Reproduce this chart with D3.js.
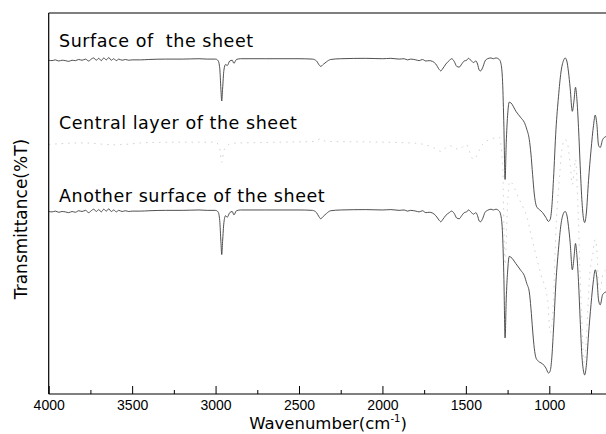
<!DOCTYPE html>
<html>
<head>
<meta charset="utf-8">
<script src="https://cdn.jsdelivr.net/npm/d3@7"></script>
<style>
  html, body { margin: 0; padding: 0; background: #fff; }
  svg text { font-family: "DejaVu Sans", sans-serif; fill: #000; }
</style>
</head>
<body>
<div id="chart"></div>
<script>
// IR spectra: [wavenumber (cm-1), transmittance (%T, arbitrary offset)]
const surfaceSpectrum = [
  [4000, 87.6], [3980, 87.5], [3960, 87.7], [3940, 87.4], [3920, 87.6], [3900, 87.5], [3880, 87.3],
  [3860, 87.6], [3840, 87.5], [3820, 87.8], [3800, 87.6], [3780, 87.9], [3760, 87.4], [3745, 87.9],
  [3730, 88.2], [3715, 87.6], [3700, 88.1], [3685, 87.5], [3670, 88.2], [3655, 87.7], [3640, 88.3],
  [3625, 87.6], [3610, 88.0], [3595, 87.5], [3580, 87.9], [3560, 87.6], [3540, 87.8], [3520, 87.6],
  [3500, 87.7], [3450, 87.7], [3400, 87.8], [3300, 87.9], [3200, 87.9], [3100, 88.0], [3050, 87.9],
  [3000, 87.9], [2985, 87.5], [2975, 85.5], [2968, 80.0], [2963, 76.9], [2958, 80.0], [2950, 85.0],
  [2940, 86.5], [2930, 86.2], [2915, 87.4], [2900, 87.6], [2890, 86.8], [2875, 87.8], [2850, 88.0],
  [2700, 88.0], [2500, 88.0], [2420, 87.9], [2395, 87.4], [2380, 86.4], [2370, 86.0], [2355, 86.5],
  [2335, 87.2], [2310, 87.8], [2250, 88.0], [2100, 88.1], [2000, 88.0], [1950, 88.1], [1900, 87.9],
  [1870, 88.0], [1850, 87.7], [1830, 87.9], [1800, 87.7], [1780, 87.5], [1760, 87.8], [1740, 87.4],
  [1720, 87.5], [1700, 87.3], [1680, 86.6], [1660, 85.2], [1650, 84.8], [1640, 85.3], [1620, 86.6],
  [1600, 87.5], [1585, 88.0], [1570, 87.3], [1555, 86.0], [1540, 85.8], [1525, 86.6], [1510, 87.4],
  [1495, 87.6], [1485, 88.1], [1470, 87.6], [1455, 87.0], [1440, 87.4], [1430, 86.6], [1420, 85.0],
  [1412, 84.8], [1400, 85.6], [1385, 87.4], [1370, 88.0], [1350, 88.2], [1335, 88.0], [1320, 88.2],
  [1300, 87.8], [1290, 86.8], [1280, 82.0], [1272, 70.0], [1265, 56.3], [1258, 66.0], [1250, 73.0],
  [1240, 76.6], [1230, 76.4], [1200, 74.2], [1170, 72.5], [1150, 71.3], [1135, 69.5], [1120, 66.8],
  [1110, 63.0], [1100, 57.6], [1090, 52.5], [1080, 49.7], [1070, 48.8], [1060, 48.4], [1040, 47.6],
  [1020, 46.3], [1005, 45.3], [995, 45.8], [985, 49.0], [975, 56.3], [960, 69.5], [945, 78.0],
  [930, 84.5], [915, 87.5], [905, 88.2], [895, 87.4], [885, 84.5], [875, 80.3], [862, 74.2],
  [852, 77.0], [843, 80.5], [835, 77.6], [825, 70.0], [815, 60.0], [805, 51.1], [795, 46.0],
  [788, 45.0], [778, 47.5], [765, 56.0], [750, 64.0], [735, 70.5], [725, 73.2], [715, 70.8],
  [705, 65.3], [695, 64.7], [680, 66.8], [660, 67.6]
];

const centralSpectrum = [
  [4000, 65.5], [3800, 65.9], [3600, 65.4], [3400, 66.0], [3200, 66.1], [3000, 66.1], [2975, 64.5],
  [2963, 60.8], [2950, 64.0], [2900, 65.8], [2600, 66.1], [2400, 66.3], [2374, 67.0], [2340, 66.3],
  [2000, 66.1], [1800, 65.8], [1700, 64.8], [1650, 63.7], [1600, 65.2], [1540, 64.2], [1500, 65.5],
  [1455, 61.6], [1400, 65.5], [1330, 67.2], [1300, 67.4], [1280, 60.0], [1265, 33.9], [1250, 50.0],
  [1238, 55.8], [1180, 51.1], [1130, 45.8], [1100, 40.0], [1050, 31.3], [1010, 24.7], [995, 16.1],
  [985, 18.0], [975, 24.7], [960, 43.2], [940, 56.3], [920, 65.5], [905, 66.8], [890, 65.5],
  [875, 60.3], [862, 55.0], [850, 58.9], [843, 61.6], [830, 51.1], [810, 24.7], [790, 8.2],
  [775, 16.8], [760, 30.0], [740, 36.6], [725, 40.5], [715, 37.9], [705, 28.7], [695, 27.4],
  [680, 31.3], [660, 32.6]
];

const anotherSpectrum = [
  [4000, 47.9], [3980, 47.8], [3960, 48.0], [3940, 47.7], [3920, 47.9], [3900, 47.8], [3880, 47.6],
  [3860, 47.9], [3840, 47.7], [3820, 48.1], [3800, 47.9], [3780, 48.2], [3760, 47.6], [3745, 48.1],
  [3730, 48.5], [3715, 47.9], [3700, 48.4], [3685, 47.8], [3670, 48.5], [3655, 48.0], [3640, 48.6],
  [3625, 47.9], [3610, 48.3], [3595, 47.8], [3580, 48.2], [3560, 47.9], [3540, 48.1], [3520, 47.9],
  [3500, 48.0], [3450, 48.0], [3400, 48.1], [3300, 48.2], [3200, 48.2], [3100, 48.3], [3050, 48.2],
  [3000, 48.2], [2985, 47.8], [2975, 45.5], [2968, 40.0], [2963, 36.6], [2958, 40.0], [2950, 45.0],
  [2940, 46.8], [2930, 46.4], [2915, 47.6], [2900, 47.9], [2890, 47.0], [2875, 48.1], [2850, 48.3],
  [2700, 48.3], [2500, 48.3], [2420, 48.2], [2395, 47.6], [2380, 46.5], [2370, 46.0], [2355, 46.6],
  [2335, 47.4], [2310, 48.1], [2250, 48.3], [2100, 48.4], [2000, 48.3], [1950, 48.4], [1900, 48.2],
  [1870, 48.3], [1850, 48.0], [1830, 48.2], [1800, 48.0], [1780, 47.8], [1760, 48.1], [1740, 47.6],
  [1720, 47.7], [1700, 47.5], [1680, 46.8], [1660, 45.6], [1650, 45.2], [1640, 45.7], [1620, 46.9],
  [1600, 47.6], [1585, 48.0], [1570, 47.4], [1555, 46.2], [1540, 46.0], [1525, 46.8], [1510, 47.6],
  [1495, 47.8], [1485, 48.3], [1470, 47.8], [1455, 47.2], [1440, 47.6], [1430, 46.8], [1420, 45.4],
  [1412, 45.2], [1400, 46.0], [1385, 47.7], [1370, 48.2], [1350, 48.5], [1335, 48.3], [1320, 48.5],
  [1300, 48.0], [1290, 46.8], [1280, 41.8], [1272, 30.0], [1265, 14.7], [1258, 25.0], [1250, 32.0],
  [1240, 36.1], [1230, 35.9], [1200, 34.2], [1170, 32.4], [1150, 31.1], [1135, 29.0], [1120, 26.8],
  [1110, 22.5], [1100, 16.8], [1090, 12.0], [1080, 9.5], [1070, 8.8], [1060, 8.4], [1040, 7.9],
  [1020, 6.8], [1005, 5.5], [995, 6.0], [985, 9.5], [975, 16.8], [960, 29.5], [945, 38.0],
  [930, 44.5], [915, 47.4], [905, 47.9], [895, 47.0], [885, 44.0], [875, 39.7], [862, 32.6],
  [852, 35.8], [843, 39.5], [835, 36.6], [825, 29.5], [815, 19.5], [805, 10.3], [795, 6.0],
  [788, 5.0], [778, 7.5], [765, 15.5], [750, 23.5], [735, 30.0], [725, 32.6], [715, 30.5],
  [705, 24.7], [695, 23.4], [680, 26.1], [660, 26.8]
];

const traceLabels = ['Surface of  the sheet', 'Central layer of the sheet', 'Another surface of the sheet'];
const majorTicks = [4000, 3500, 3000, 2500, 2000, 1500, 1000];
const minorTicks = [3750, 3250, 2750, 2250, 1750, 1250, 750];

const width = 606, height = 434;
const margin = {top: 13, left: 48.7, bottom: 40};

const svg = d3.select('#chart').append('svg')
    .attr('width', width)
    .attr('height', height);

const scaleX = d3.scaleLinear().domain([4000, 1000]).range([margin.left, 549.3]);
const scaleY = d3.scaleLinear().domain([0, 100]).range([height - margin.bottom, margin.top]);
const plotBottom = height - margin.bottom;

svg.append('clipPath').attr('id', 'plotClip')
  .append('rect')
    .attr('x', margin.left).attr('y', margin.top)
    .attr('width', width - margin.left).attr('height', plotBottom - margin.top);

const line = d3.line()
    .x((d) => scaleX(d[0]))
    .y((d) => scaleY(d[1]))
    .curve(d3.curveMonotoneX);

const plot = svg.append('g').attr('clip-path', 'url(#plotClip)');

// central layer is drawn very faint and broken up in the original scan
plot.append('path')
    .attr('d', line(centralSpectrum))
    .attr('fill', 'none')
    .attr('stroke', '#c4c4c4')
    .attr('stroke-width', 0.8)
    .attr('stroke-dasharray', '1.5,5');

[surfaceSpectrum, anotherSpectrum].forEach((s) => {
  plot.append('path')
      .attr('d', line(s))
      .attr('fill', 'none')
      .attr('stroke', '#3c3c3c')
      .attr('stroke-width', 0.9);
});

// trace labels
svg.selectAll('.lbl')
    .data(traceLabels)
    .enter().append('text')
    .attr('class', 'lbl')
    .attr('x', 59)
    .attr('y', (d, i) => [46.7, 128.5, 202][i])
    .attr('xml:space', 'preserve')
    .style('white-space', 'pre')
    .style('font-size', '17.5px')
    .style('letter-spacing', '0.55px')
    .text((d) => d);

// frame: left axis, top border, bottom axis line
svg.append('line')
    .attr('x1', margin.left).attr('x2', margin.left)
    .attr('y1', margin.top).attr('y2', plotBottom)
    .attr('stroke', '#000').attr('stroke-width', 1.2);
svg.append('line')
    .attr('x1', margin.left).attr('x2', width)
    .attr('y1', margin.top).attr('y2', margin.top)
    .attr('stroke', '#000').attr('stroke-width', 1.2);
svg.append('line')
    .attr('x1', margin.left).attr('x2', width)
    .attr('y1', plotBottom).attr('y2', plotBottom)
    .attr('stroke', '#000').attr('stroke-width', 1.2);

// x axis, ticks point inward
const xAxis = svg.append('g')
    .attr('transform', 'translate(0,' + plotBottom + ')')
    .call(d3.axisBottom(scaleX).tickValues(majorTicks).tickSize(-8).tickPadding(6).tickFormat(d3.format('d')));
xAxis.select('.domain').remove();
xAxis.selectAll('text')
    .style('font-family', '"Liberation Sans", Arial, sans-serif')
    .style('font-size', '14px');
xAxis.selectAll('line').attr('stroke', '#000');

svg.append('g')
    .attr('transform', 'translate(0,' + plotBottom + ')')
    .call(d3.axisBottom(scaleX).tickValues(minorTicks).tickSize(-4).tickFormat(''))
    .call((g) => g.select('.domain').remove())
    .selectAll('line').attr('stroke', '#000');

// axis titles
const xTitle = svg.append('text')
    .attr('x', 328)
    .attr('y', 429)
    .attr('text-anchor', 'middle')
    .style('font-size', '16.5px');
xTitle.append('tspan').text('Wavenumber(cm');
xTitle.append('tspan').attr('dy', -7).style('font-size', '10px').text('-1');
xTitle.append('tspan').attr('dy', 7).text(')');

svg.append('text')
    .attr('transform', 'translate(27,219) rotate(-90)')
    .attr('text-anchor', 'middle')
    .style('font-size', '17px')
    .text('Transmittance(%T)');
</script>
</body>
</html>
